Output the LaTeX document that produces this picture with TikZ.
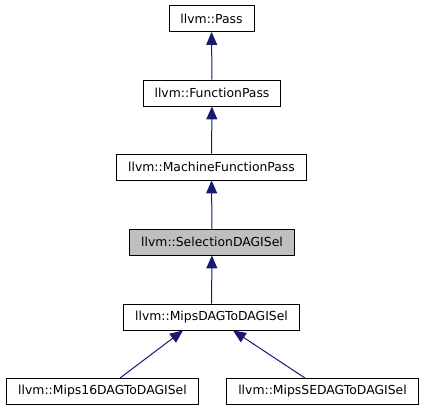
\documentclass[tikz,border=0pt]{standalone}
\usepackage{fontspec}
\setmainfont{DejaVu Sans}
\usetikzlibrary{arrows.meta}
\definecolor{edgeblue}{HTML}{191970}
\definecolor{selgray}{HTML}{BFBFBF}

\begin{document}
\begin{tikzpicture}[x=1pt,y=1pt,
  cls/.style={draw=black,fill=white,line width=0.9pt,minimum height=26pt,
    inner xsep=11.5pt,font=\fontsize{12.4}{14}\selectfont},
  sel/.style={cls,fill=selgray},
  inh/.style={draw=edgeblue,line width=1pt,
    {Triangle[length=13pt,width=11pt]}-}]
  \useasboundingbox (0,0) rectangle (425,411);
  \node[cls] (pass) at (211.5,392.5) {llvm::Pass};
  \node[cls] (fpass) at (212,318) {llvm::FunctionPass};
  \node[cls] (mfpass) at (211.5,244) {llvm::MachineFunctionPass};
  \node[sel] (sdagisel) at (212,169) {llvm::SelectionDAGISel};
  \node[cls] (mipsdag) at (211.5,94) {llvm::MipsDAGToDAGISel};
  \node[cls] (mips16) at (102.5,19.5) {llvm::Mips16DAGToDAGISel};
  \node[cls] (mipsse) at (322.5,19.5) {llvm::MipsSEDAGToDAGISel};
  \draw[inh] (pass) -- (fpass);
  \draw[inh] (fpass) -- (mfpass);
  \draw[inh] (mfpass) -- (sdagisel);
  \draw[inh] (sdagisel) -- (mipsdag);
  \draw[inh] ([xshift=-28.5pt]mipsdag.south) -- ([xshift=17.5pt]mips16.north);
  \draw[inh] ([xshift=21.5pt]mipsdag.south) -- ([xshift=-17.5pt]mipsse.north);
\end{tikzpicture}
\end{document}
